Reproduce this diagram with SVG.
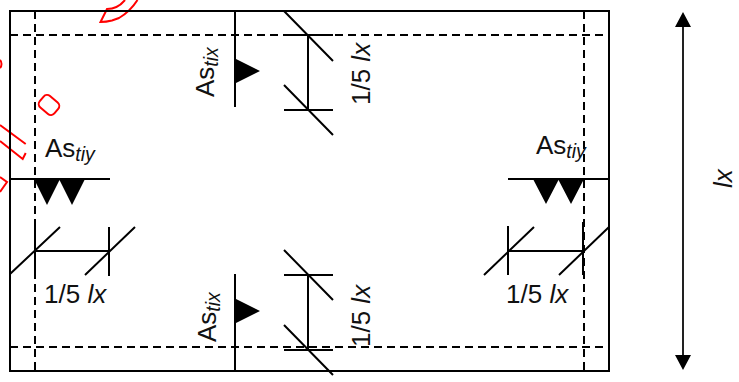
<svg xmlns="http://www.w3.org/2000/svg" width="739" height="382" viewBox="0 0 739 382">
<style>
.o{fill:none;stroke:#000;stroke-width:2}
.d{fill:none;stroke:#000;stroke-width:2;stroke-dasharray:8 5}
.f{fill:#000;stroke:none}
.r{fill:none;stroke:#f00;stroke-width:2}
text{font-family:"Liberation Sans",Arial,sans-serif;font-size:26px;fill:#111}
.i{font-style:italic}
.s{font-size:19.500px;font-style:italic}
</style>
<rect width="739" height="382" fill="#fff"/>
<g id="red-marks">
<path class="r" d="M137.500 0C133 7 126 14 119 18L112 20.500C108 21.500 104 22 100.500 22L107 9C113 9 120 6 125 0"/>
<path class="r" d="M0 60C2 62 2 66 0 68"/>
<rect class="r" x="39.500" y="97.500" width="19" height="15" rx="4.500" transform="rotate(40 49 105)"/>
<path class="r" d="M0 125L25.700 144M0 141L22.700 159L25.700 153"/>
<path class="r" d="M0 177L7 182L0 192"/>
</g>
<g id="slab">
<rect class="o" x="10" y="11" width="599" height="360"/>
<path class="d" d="M35 11V371M584 11V371M10 35H609M10 347H609"/>
</g>
<g id="connectors">
<path class="o" d="M235 11V107M235 274V371M11 179H110M508 179H609"/>
<path class="o" d="M35 227V276M109 227V276M35 251H109M10 274L60 227M85 275L135 227"/>
<path class="o" d="M508 226V275M583 222V275M508 251H583M484 275L534 227M559 275L609 227"/>
<path class="o" d="M308 35V110M284 35H333M284 110H333M284 11L333 61M284 85L333 135"/>
<path class="o" d="M308 275V350M284 275H333M284 350H333M284 250L333 300M284 325L333 375"/>
<path d="M683 25V358" fill="none" stroke="#222" stroke-width="2"/>
</g>
<g id="arrows">
<path class="f" d="M683 12L691 27H675ZM683 370L691 355H675Z"/>
<path class="f" d="M234 58L260 71L234 84ZM234 298L260 311L234 324Z"/>
<path class="f" d="M34 179H60L47 205ZM59 179H85L72 205ZM533 179H559L546 204ZM558 179H584L571 204Z"/>
</g>
<g id="labels">
<text x="45" y="157">As<tspan class="s" dy="4">tiy</tspan></text>
<text x="536" y="154">As<tspan class="s" dy="4">tiy</tspan></text>
<text x="44" y="303">1/5 <tspan class="i">lx</tspan></text>
<text x="506" y="303">1/5 <tspan class="i">lx</tspan></text>
<text transform="translate(214 97) rotate(-90)">As<tspan class="s" dy="4">tix</tspan></text>
<text transform="translate(216 342) rotate(-90)">As<tspan class="s" dy="4">tix</tspan></text>
<text transform="translate(370 105) rotate(-90)">1/5 <tspan class="i">lx</tspan></text>
<text transform="translate(370 347) rotate(-90)">1/5 <tspan class="i">lx</tspan></text>
<text class="i" transform="translate(732 188) rotate(-90)">lx</text>
</g>
</svg>
